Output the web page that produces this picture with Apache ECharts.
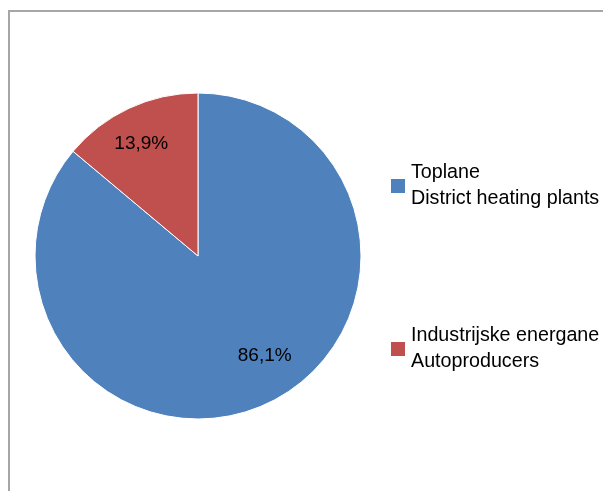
<!DOCTYPE html>
<html>
<head>
  <meta charset="utf-8">
  <title>Pie</title>
  <script src="https://cdn.jsdelivr.net/npm/echarts@6/dist/echarts.min.js"></script>
</head>
<body style="margin:0;">
  <div id="main" style="width:603px;height:491px;"></div>
  <script type="text/javascript">
    // data
    var names = ['Toplane\nDistrict heating plants', 'Industrijske energane\nAutoproducers'];
    var values = [86.1, 13.9];
    var colors = ['#4F81BD', '#C0504D'];
    // nudge inside labels toward where the original put them
    var labelShift = [[31, 23], [-21, -36]];

    var myChart = echarts.init(document.getElementById('main'));

    myChart.setOption({
      animation: false,
      graphic: [{
        type: 'rect',
        shape: { x: 9, y: 11, width: 640, height: 520 },
        style: { fill: 'none', stroke: '#a6a6a6', lineWidth: 2 },
        silent: true
      }],
      legend: {
        orient: 'vertical',
        left: 389,
        top: 147,
        padding: 0,
        itemWidth: 16,
        itemHeight: 16,
        itemGap: 85,
        textGap: 2,
        icon: 'rect',
        selectedMode: false,
        textStyle: {
          fontFamily: 'Liberation Sans',
          fontSize: 19.7,
          color: '#000',
          lineHeight: 26,
          padding: [26, 0, 0, 0]
        },
        data: names
      },
      series: [{
        type: 'pie',
        center: [198, 256],
        radius: 163,
        startAngle: 90,
        clockwise: true,
        itemStyle: { borderColor: '#fff', borderWidth: 1 },
        label: {
          position: 'inside',
          fontFamily: 'Liberation Sans',
          fontSize: 19,
          color: '#000',
          formatter: function (p) {
            return String(p.value).replace('.', ',') + '%';
          }
        },
        labelLayout: function (p) {
          return { dx: labelShift[p.dataIndex][0], dy: labelShift[p.dataIndex][1] };
        },
        data: values.map(function (v, i) {
          return { name: names[i], value: v, itemStyle: { color: colors[i] } };
        })
      }]
    });
  </script>
</body>
</html>
